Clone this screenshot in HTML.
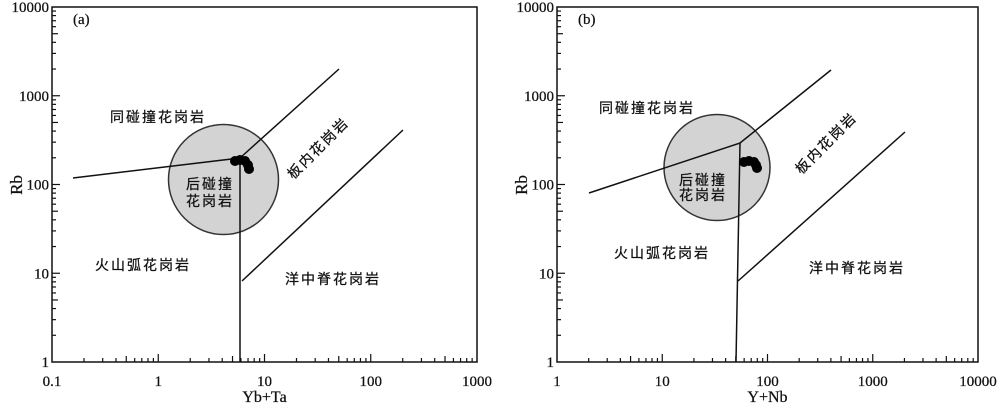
<!DOCTYPE html>
<html><head><meta charset="utf-8"><style>
body{margin:0;background:#fff;}
svg text{font-family:"Liberation Serif","Noto Serif CJK SC",serif;fill:#111;stroke:#111;stroke-width:0.25;}
.cn{font-family:"Liberation Sans","Noto Sans CJK SC",sans-serif;font-size:14px;letter-spacing:2px;}
</style></head><body>
<svg id="s" width="1000" height="404" xmlns="http://www.w3.org/2000/svg">
<g stroke="#111" stroke-width="1.5" fill="none">
<circle cx="223.5" cy="179.5" r="55" fill="#d3d3d3" stroke="#333"/>
<polyline points="73,178 240,158 240,362"/>
<line x1="240" y1="158" x2="339" y2="69"/>
<line x1="242" y1="281" x2="403" y2="130"/>
<circle cx="717" cy="167.5" r="53" fill="#d3d3d3" stroke="#333"/>
<polyline points="589,193 740,143 736,362"/>
<line x1="740" y1="143" x2="831" y2="70"/>
<line x1="738" y1="281" x2="905" y2="132"/>
</g>
<g fill="#000">
<circle cx="235" cy="161" r="5"/><circle cx="240" cy="160" r="5"/><circle cx="245" cy="161" r="5"/><circle cx="248" cy="165" r="5"/><circle cx="249" cy="169" r="5"/>
<circle cx="744" cy="162" r="5"/><circle cx="749" cy="161" r="5"/><circle cx="754" cy="162" r="5"/><circle cx="756" cy="165" r="5"/><circle cx="757" cy="168" r="5"/>
</g>
<g class="cn">
<text class="cn" x="158" y="122" text-anchor="middle">同碰撞花岗岩</text>
<text class="cn" x="210" y="189" text-anchor="middle">后碰撞</text>
<text class="cn" x="210" y="206" text-anchor="middle">花岗岩</text>
<text class="cn" x="318" y="153" text-anchor="middle" transform="rotate(-45 318 148)">板内花岗岩</text>
<text class="cn" x="143" y="270" text-anchor="middle">火山弧花岗岩</text>
<text class="cn" x="333" y="284" text-anchor="middle">洋中脊花岗岩</text>
<text class="cn" x="647" y="113" text-anchor="middle">同碰撞花岗岩</text>
<text class="cn" x="703" y="185" text-anchor="middle">后碰撞</text>
<text class="cn" x="703" y="200" text-anchor="middle">花岗岩</text>
<text class="cn" x="826" y="148" text-anchor="middle" transform="rotate(-45 826 143)">板内花岗岩</text>
<text class="cn" x="662" y="258" text-anchor="middle">火山弧花岗岩</text>
<text class="cn" x="857" y="273" text-anchor="middle">洋中脊花岗岩</text>
</g>
</svg>
<script>
const s=document.getElementById('s');const NS='http://www.w3.org/2000/svg';
function el(t,a,txt){const e=document.createElementNS(NS,t);for(const k in a)e.setAttribute(k,a[k]);if(txt!==undefined)e.textContent=txt;s.appendChild(e);return e;}
function panel(L,R,T,B,xl,tag,xt){
 el('rect',{x:L,y:T,width:R-L,height:B-T,fill:'none',stroke:'#111','stroke-width':1.5});
 const dx=(R-L)/4,dy=(B-T)/4;
 for(let d=0;d<4;d++)for(let k=1;k<10;k++){
  const x=L+dx*(d+Math.log10(k));const len=k==1?8:(k==5?6:4);
  if(k>1||d>0){el('line',{x1:x,y1:B,x2:x,y2:B-len,stroke:'#111','stroke-width':1.2});}
  const y=B-dy*(d+Math.log10(k));
  if(k>1||d>0){el('line',{x1:L,y1:y,x2:L+len,y2:y,stroke:'#111','stroke-width':1.2});}
 }
 for(let d=0;d<=4;d++){
  el('text',{x:L+dx*d,y:386,'text-anchor':'middle','font-size':15},xl[d]);
  el('text',{x:L-3,y:B-dy*d+5,'text-anchor':'end','font-size':15},String(Math.pow(10,d)));
 }
 el('text',{x:(L+R)/2,y:402,'text-anchor':'middle','font-size':16},xt);
 el('text',{x:L-36,y:191,'text-anchor':'middle','font-size':17,transform:`rotate(-90 ${L-36} 185)`},'Rb');
 el('text',{x:L+21,y:24,'font-size':15},tag);
}
panel(52,477,7,362,['0.1','1','10','100','1000'],'(a)','Yb+Ta');
panel(557,978,7,362,['1','10','100','1000','10000'],'(b)','Y+Nb');
</script>
</body></html>
